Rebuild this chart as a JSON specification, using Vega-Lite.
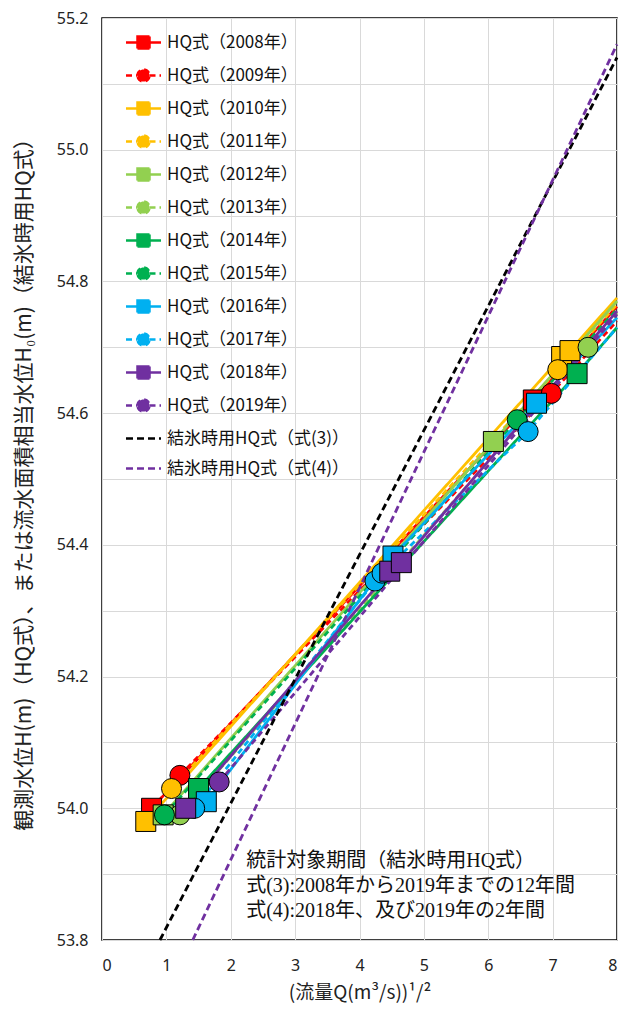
{
  "$schema": "https://vega.github.io/schema/vega-lite/v6.json",
  "width": 515,
  "height": 922,
  "autosize": "none",
  "padding": {"left": 102, "top": 18, "right": 6, "bottom": 75},
  "background": "white",
  "config": {
    "font": "Noto Sans CJK JP",
    "view": {"stroke": "#000000", "strokeWidth": 1.5}
  },
  "datasets": {
    "hq": [
      {"s": "HQ式（2008年）", "x": 0.77, "y": 54.0, "m": 1},
      {"s": "HQ式（2008年）", "x": 6.7, "y": 54.62, "m": 1},
      {"s": "HQ式（2008年）", "x": 8, "y": 54.762, "m": 0},
      {"s": "HQ式（2009年）", "x": 1.21, "y": 54.05, "m": 1},
      {"s": "HQ式（2009年）", "x": 6.98, "y": 54.63, "m": 1},
      {"s": "HQ式（2009年）", "x": 8, "y": 54.74, "m": 0},
      {"s": "HQ式（2010年）", "x": 0.68, "y": 53.98, "m": 1},
      {"s": "HQ式（2010年）", "x": 7.14, "y": 54.686, "m": 1},
      {"s": "HQ式（2010年）", "x": 7.27, "y": 54.695, "m": 1},
      {"s": "HQ式（2010年）", "x": 8, "y": 54.775, "m": 0},
      {"s": "HQ式（2011年）", "x": 1.08, "y": 54.03, "m": 1},
      {"s": "HQ式（2011年）", "x": 7.08, "y": 54.666, "m": 1},
      {"s": "HQ式（2011年）", "x": 8, "y": 54.765, "m": 0},
      {"s": "HQ式（2012年）", "x": 0.95, "y": 53.99, "m": 1},
      {"s": "HQ式（2012年）", "x": 6.08, "y": 54.557, "m": 1},
      {"s": "HQ式（2012年）", "x": 8, "y": 54.77, "m": 0},
      {"s": "HQ式（2013年）", "x": 1.21, "y": 53.99, "m": 1},
      {"s": "HQ式（2013年）", "x": 7.55, "y": 54.7, "m": 1},
      {"s": "HQ式（2013年）", "x": 8, "y": 54.752, "m": 0},
      {"s": "HQ式（2014年）", "x": 1.5, "y": 54.03, "m": 1},
      {"s": "HQ式（2014年）", "x": 7.38, "y": 54.66, "m": 1},
      {"s": "HQ式（2014年）", "x": 8, "y": 54.73, "m": 0},
      {"s": "HQ式（2015年）", "x": 0.97, "y": 53.99, "m": 1},
      {"s": "HQ式（2015年）", "x": 6.45, "y": 54.59, "m": 1},
      {"s": "HQ式（2015年）", "x": 8, "y": 54.758, "m": 0},
      {"s": "HQ式（2016年）", "x": 1.62, "y": 54.01, "m": 1},
      {"s": "HQ式（2016年）", "x": 4.52, "y": 54.383, "m": 1},
      {"s": "HQ式（2016年）", "x": 6.75, "y": 54.615, "m": 1},
      {"s": "HQ式（2016年）", "x": 8, "y": 54.745, "m": 0},
      {"s": "HQ式（2017年）", "x": 1.44, "y": 54.0, "m": 1},
      {"s": "HQ式（2017年）", "x": 4.24, "y": 54.345, "m": 1},
      {"s": "HQ式（2017年）", "x": 4.35, "y": 54.357, "m": 1},
      {"s": "HQ式（2017年）", "x": 6.62, "y": 54.572, "m": 1},
      {"s": "HQ式（2017年）", "x": 8, "y": 54.73, "m": 0},
      {"s": "HQ式（2018年）", "x": 1.3, "y": 54.0, "m": 1},
      {"s": "HQ式（2018年）", "x": 4.47, "y": 54.36, "m": 1},
      {"s": "HQ式（2018年）", "x": 4.65, "y": 54.373, "m": 1},
      {"s": "HQ式（2018年）", "x": 8, "y": 54.755, "m": 0},
      {"s": "HQ式（2019年）", "x": 1.82, "y": 54.04, "m": 1},
      {"s": "HQ式（2019年）", "x": 8, "y": 54.75, "m": 0},
      {"s": "結氷時用HQ式（式(3)）", "x": 0.9, "y": 53.8, "m": 0},
      {"s": "結氷時用HQ式（式(3)）", "x": 8, "y": 55.14, "m": 0},
      {"s": "結氷時用HQ式（式(4)）", "x": 1.41, "y": 53.8, "m": 0},
      {"s": "結氷時用HQ式（式(4)）", "x": 8, "y": 55.16, "m": 0}
    ]
  },
  "layer": [
    {
      "data": {"name": "hq"},
      "mark": {"type": "line", "strokeWidth": 2.8},
      "encoding": {
        "x": {
          "field": "x", "type": "quantitative",
          "scale": {"domain": [0, 8], "nice": false, "zero": false},
          "axis": {
            "values": [0, 0.5, 1, 1.5, 2, 2.5, 3, 3.5, 4, 4.5, 5, 5.5, 6, 6.5, 7, 7.5, 8],
            "labelExpr": "datum.value % 1 === 0 ? format(datum.value, 'd') : ''",
            "ticks": false, "domain": false, "grid": true,
            "gridColor": "#D9D9D9", "gridWidth": 1,
            "labelFont": "Noto Sans", "labelFontSize": 16, "labelColor": "#222222",
            "labelPadding": 17, "labelOverlap": false,
            "title": "(流量Q(m³/s))¹/²",
            "titleFont": "Noto Sans CJK JP", "titleFontSize": 19, "titleFontWeight": "normal",
            "titleColor": "#222222", "titlePadding": 10
          }
        },
        "y": {
          "field": "y", "type": "quantitative",
          "scale": {"domain": [53.8, 55.2], "nice": false, "zero": false},
          "axis": {
            "values": [53.8, 53.9, 54.0, 54.1, 54.2, 54.3, 54.4, 54.5, 54.6, 54.7, 54.8, 54.9, 55.0, 55.1, 55.2],
            "labelExpr": "round(datum.value * 10) % 2 == 0 ? format(datum.value, '.1f') : ''",
            "ticks": false, "domain": false, "grid": true,
            "gridColor": "#D9D9D9", "gridWidth": 1,
            "labelFont": "Noto Sans", "labelFontSize": 16, "labelColor": "#222222",
            "labelPadding": 14, "labelOverlap": false,
            "title": "観測水位H(m)（HQ式）、または流水面積相当水位H₀(m)（結氷時用HQ式）",
            "titleFont": "Noto Sans CJK JP", "titleFontSize": 21, "titleFontWeight": "normal",
            "titleColor": "#222222", "titlePadding": 22
          }
        },
        "detail": {"field": "s"},
        "color": {
          "field": "s", "type": "nominal",
          "scale": {
            "domain": ["HQ式（2008年）", "HQ式（2009年）", "HQ式（2010年）", "HQ式（2011年）", "HQ式（2012年）", "HQ式（2013年）", "HQ式（2014年）", "HQ式（2015年）", "HQ式（2016年）", "HQ式（2017年）", "HQ式（2018年）", "HQ式（2019年）", "結氷時用HQ式（式(3)）", "結氷時用HQ式（式(4)）"],
            "range": ["#FF0000", "#FF0000", "#FFC000", "#FFC000", "#92D050", "#92D050", "#00B050", "#00B050", "#00B0F0", "#00B0F0", "#7030A0", "#7030A0", "#000000", "#7030A0"]
          },
          "legend": {
            "orient": "none", "legendX": 30, "legendY": 13,
            "title": null, "padding": 0,
            "symbolSize": 400, "symbolStrokeWidth": 2.5,
            "labelFont": "Noto Sans CJK JP", "labelFontSize": 17, "labelColor": "#111111",
            "labelOffset": 12, "rowPadding": 10, "labelLimit": 300,
            "encode": {
              "symbols": {
                "update": {
                  "shape": {"signal": "indexof(datum.value, '結氷') >= 0 ? 'M-1.75,0H1.75' : (toNumber(substring(datum.value, 4, 8)) % 2 == 0 ? 'M-1.75,0H-0.6M0.6,0H1.75M-0.6,-0.6H0.6V0.6H-0.6Z' : 'M-1.75,0H-0.6M0.6,0H1.75M-0.6,0A0.6,0.6,0,1,1,0.6,0A0.6,0.6,0,1,1,-0.6,0Z')"},
                  "strokeDash": {"signal": "indexof(datum.value, '結氷') >= 0 ? [5, 3] : (toNumber(substring(datum.value, 4, 8)) % 2 == 0 ? [1, 0] : [4, 3])"},
                  "fill": {"signal": "scale('color', datum.value)"},
                  "stroke": {"signal": "scale('color', datum.value)"},
                  "opacity": {"value": 1}
                }
              }
            }
          }
        },
        "strokeDash": {
          "field": "s", "type": "nominal",
          "scale": {
            "domain": ["HQ式（2008年）", "HQ式（2009年）", "HQ式（2010年）", "HQ式（2011年）", "HQ式（2012年）", "HQ式（2013年）", "HQ式（2014年）", "HQ式（2015年）", "HQ式（2016年）", "HQ式（2017年）", "HQ式（2018年）", "HQ式（2019年）", "結氷時用HQ式（式(3)）", "結氷時用HQ式（式(4)）"],
            "range": [[1, 0], [6, 4], [1, 0], [6, 4], [1, 0], [6, 4], [1, 0], [6, 4], [1, 0], [6, 4], [1, 0], [6, 4], [7, 4], [7, 4]]
          },
          "legend": null
        }
      }
    },
    {
      "data": {"name": "hq"},
      "transform": [{"filter": "datum.m == 1"}],
      "mark": {"type": "point", "filled": true, "size": 400, "stroke": "#000000", "strokeWidth": 1, "opacity": 1},
      "encoding": {
        "x": {"field": "x", "type": "quantitative"},
        "y": {"field": "y", "type": "quantitative"},
        "shape": {
          "field": "s", "type": "nominal",
          "scale": {
            "domain": ["HQ式（2008年）", "HQ式（2009年）", "HQ式（2010年）", "HQ式（2011年）", "HQ式（2012年）", "HQ式（2013年）", "HQ式（2014年）", "HQ式（2015年）", "HQ式（2016年）", "HQ式（2017年）", "HQ式（2018年）", "HQ式（2019年）"],
            "range": ["square", "circle", "square", "circle", "square", "circle", "square", "circle", "square", "circle", "square", "circle"]
          },
          "legend": null
        },
        "fill": {
          "field": "s", "type": "nominal",
          "scale": {
            "domain": ["HQ式（2008年）", "HQ式（2009年）", "HQ式（2010年）", "HQ式（2011年）", "HQ式（2012年）", "HQ式（2013年）", "HQ式（2014年）", "HQ式（2015年）", "HQ式（2016年）", "HQ式（2017年）", "HQ式（2018年）", "HQ式（2019年）"],
            "range": ["#FF0000", "#FF0000", "#FFC000", "#FFC000", "#92D050", "#92D050", "#00B050", "#00B050", "#00B0F0", "#00B0F0", "#7030A0", "#7030A0"]
          },
          "legend": null
        }
      }
    },
    {
      "data": {"values": [{}]},
      "mark": {
        "type": "text",
        "text": ["統計対象期間（結氷時用HQ式）", "式(3):2008年から2019年までの12年間", "式(4):2018年、及び2019年の2年間"],
        "align": "left", "baseline": "top",
        "font": "Liberation Serif, Noto Sans CJK JP",
        "fontSize": 20, "lineHeight": 25, "color": "#111111"
      },
      "encoding": {
        "x": {"datum": 2.24, "type": "quantitative"},
        "y": {"datum": 53.935, "type": "quantitative"}
      }
    }
  ]
}
